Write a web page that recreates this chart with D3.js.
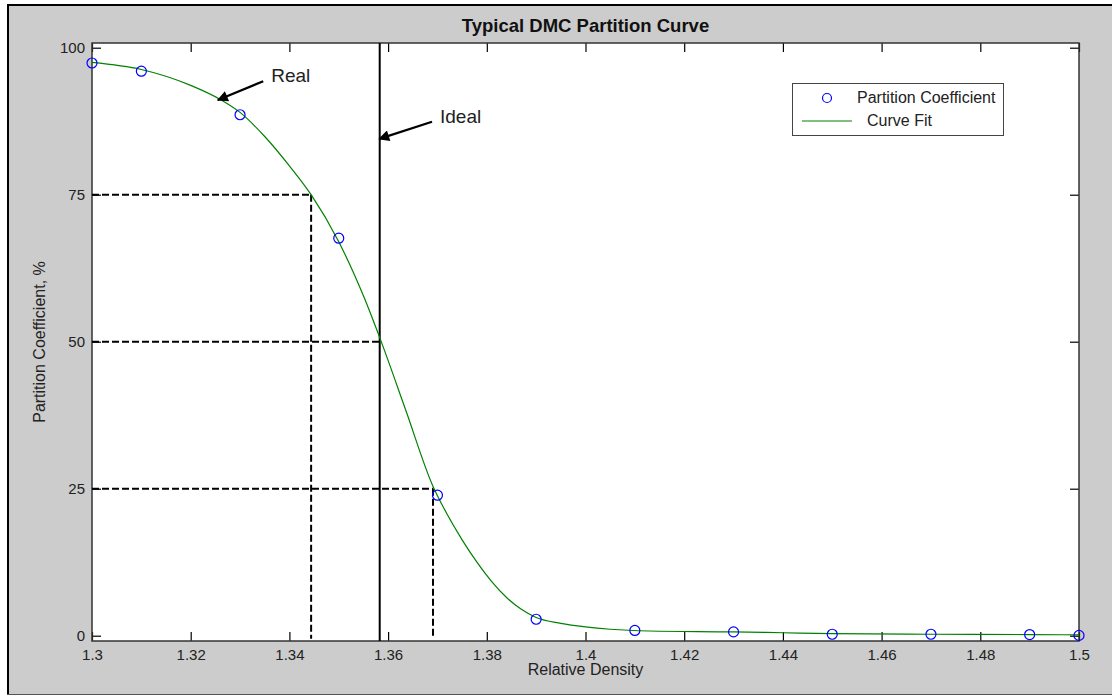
<!DOCTYPE html>
<html>
<head>
<meta charset="utf-8">
<script src="https://cdn.jsdelivr.net/npm/d3@7"></script>
<style>
  html, body { margin: 0; padding: 0; background: #ffffff; }
  svg { display: block; font-family: "Liberation Sans", Arial, sans-serif; }
</style>
</head>
<body>
<div class="container__chart"></div>
<script>
//data
const density = [1.30, 1.31, 1.33, 1.35, 1.37, 1.39, 1.41, 1.43, 1.45, 1.47, 1.49, 1.50];
const coefficient = [97.4, 96.0, 88.6, 67.6, 23.9, 2.8, 0.9, 0.65, 0.25, 0.25, 0.2, 0.05];

const fitDensity = [1.30, 1.31, 1.32, 1.326, 1.33, 1.335, 1.34, 1.3444, 1.35, 1.355, 1.3587, 1.3636, 1.369, 1.372, 1.375, 1.378, 1.381, 1.384, 1.387, 1.39, 1.395, 1.40, 1.405, 1.413, 1.43, 1.44, 1.45, 1.47, 1.49, 1.50];
const fitCoefficient = [97.5, 96.3, 93.6, 91.2, 89.0, 84.9, 79.9, 75.0, 67.0, 57.8, 49.8, 38.3, 25.6, 20.6, 16.3, 12.5, 9.2, 6.5, 4.5, 3.1, 2.1, 1.5, 1.1, 0.8, 0.65, 0.5, 0.35, 0.25, 0.2, 0.15];

const guideDensity = [1.3444, 1.3583, 1.3691];
const guideLevel = [75, 50, 25];
const idealDensity = 1.3583;

const xTicks = [1.3, 1.32, 1.34, 1.36, 1.38, 1.4, 1.42, 1.44, 1.46, 1.48, 1.5];
const yTicks = [0, 25, 50, 75, 100];

const WIDTH = 1112;
const HEIGHT = 696;

const xScale = d3.scaleLinear().domain([1.3, 1.5]).range([92, 1079]);
const yScale = d3.scaleLinear().domain([-0.9, 100.8]).range([641, 43]);

const svg = d3.select(".container__chart")
    .append("svg")
    .attr("width", WIDTH)
    .attr("height", HEIGHT);

//figure frame
svg.append("rect")
    .attr("x", 8).attr("y", 5)
    .attr("width", WIDTH).attr("height", 689)
    .attr("fill", "#cccccc");
svg.append("line").attr("x1", 7).attr("x2", WIDTH).attr("y1", 5).attr("y2", 5)
    .attr("stroke", "#000").attr("stroke-width", 2);
svg.append("line").attr("x1", 8).attr("x2", 8).attr("y1", 4).attr("y2", 694)
    .attr("stroke", "#000").attr("stroke-width", 2);
svg.append("line").attr("x1", 7).attr("x2", WIDTH).attr("y1", 694.5).attr("y2", 694.5)
    .attr("stroke", "#555").attr("stroke-width", 1);

//plot area
const [x0, x1] = xScale.range();
const [yb, yt] = yScale.range();
svg.append("rect")
    .attr("x", x0).attr("y", yt)
    .attr("width", x1 - x0).attr("height", yb - yt)
    .attr("fill", "#ffffff");

//axes, ticks point inward
const axisColor = "#333";
const bottomAxis = svg.append("g")
    .attr("transform", `translate(0,${yb})`)
    .call(d3.axisBottom(xScale).tickValues(xTicks).tickFormat(d3.format("")).tickSizeInner(-9).tickSizeOuter(0).tickPadding(8));
const topAxis = svg.append("g")
    .attr("transform", `translate(0,${yt})`)
    .call(d3.axisTop(xScale).tickValues(xTicks).tickFormat("").tickSizeInner(-9).tickSizeOuter(0));
const leftAxis = svg.append("g")
    .attr("transform", `translate(${x0},0)`)
    .call(d3.axisLeft(yScale).tickValues(yTicks).tickSizeInner(-9).tickSizeOuter(0).tickPadding(7));
const rightAxis = svg.append("g")
    .attr("transform", `translate(${x1},0)`)
    .call(d3.axisRight(yScale).tickValues(yTicks).tickFormat("").tickSizeInner(-9).tickSizeOuter(0));

[bottomAxis, topAxis, leftAxis, rightAxis].forEach(a => {
    a.select(".domain").remove();
    a.selectAll(".tick line").attr("stroke", "#000").attr("stroke-width", 1.2);
    a.selectAll("text").attr("fill", "#222").style("font-size", "15px")
        .style("font-family", "'Liberation Sans', Arial, sans-serif");
});

svg.append("rect")
    .attr("x", x0).attr("y", yt)
    .attr("width", x1 - x0).attr("height", yb - yt)
    .attr("fill", "none")
    .attr("stroke", axisColor)
    .attr("stroke-width", 1.5);

//dashed guides at 75 / 50 / 25 %
const guides = svg.append("g")
    .attr("stroke", "#000")
    .attr("stroke-width", 2)
    .attr("stroke-dasharray", "7,3");

guideLevel.forEach((lvl, i) => {
    guides.append("line")
        .attr("x1", xScale(1.3)).attr("x2", xScale(guideDensity[i]))
        .attr("y1", yScale(lvl)).attr("y2", yScale(lvl));
    if (guideDensity[i] !== idealDensity) {
        guides.append("line")
            .attr("x1", xScale(guideDensity[i])).attr("x2", xScale(guideDensity[i]))
            .attr("y1", yScale(lvl)).attr("y2", yScale(-0.5));
    }
});

//ideal cut
svg.append("line")
    .attr("x1", xScale(idealDensity)).attr("x2", xScale(idealDensity))
    .attr("y1", yt).attr("y2", yb)
    .attr("stroke", "#000")
    .attr("stroke-width", 2);

//curve fit
const fitLine = d3.line()
    .x(d => xScale(d[0]))
    .y(d => yScale(d[1]))
    .curve(d3.curveMonotoneX);

svg.append("path")
    .datum(fitDensity.map((d, i) => [d, fitCoefficient[i]]))
    .attr("d", fitLine)
    .attr("fill", "none")
    .attr("stroke", "#008000")
    .attr("stroke-width", 1.2);

//partition coefficient markers
svg.selectAll(".point")
    .data(density.map((d, i) => [d, coefficient[i]]))
    .enter()
    .append("circle")
    .classed("point", true)
    .attr("cx", d => xScale(d[0]))
    .attr("cy", d => yScale(d[1]))
    .attr("r", 5)
    .attr("fill", "none")
    .attr("stroke", "#0000ff")
    .attr("stroke-width", 1.2);

//arrows
svg.append("defs").append("marker")
    .attr("id", "head")
    .attr("viewBox", "0 0 10 10")
    .attr("refX", 9).attr("refY", 5)
    .attr("markerWidth", 6).attr("markerHeight", 5)
    .attr("markerUnits", "strokeWidth")
    .attr("orient", "auto")
    .append("path")
    .attr("d", "M0,0L10,5L0,10z")
    .attr("fill", "#000");

const arrows = [
    { label: "Real", from: [1.3347, 94.3], to: [1.3255, 91.1] },
    { label: "Ideal", from: [1.3689, 87.4], to: [1.3582, 84.5] }
];

arrows.forEach(a => {
    svg.append("line")
        .attr("x1", xScale(a.from[0])).attr("y1", yScale(a.from[1]))
        .attr("x2", xScale(a.to[0])).attr("y2", yScale(a.to[1]))
        .attr("stroke", "#000")
        .attr("stroke-width", 2.2)
        .attr("marker-end", "url(#head)");
    svg.append("text")
        .attr("x", xScale(a.from[0]) + 8)
        .attr("y", yScale(a.from[1]) - 4)
        .attr("dominant-baseline", "middle")
        .style("font-size", "19px")
        .attr("fill", "#222")
        .text(a.label);
});

//legend
const legend = svg.append("g");
legend.append("rect")
    .attr("x", 792.5).attr("y", 83.5)
    .attr("width", 211).attr("height", 52)
    .attr("fill", "#fff")
    .attr("stroke", "#444")
    .attr("stroke-width", 1);
legend.append("circle")
    .attr("cx", 827).attr("cy", 98).attr("r", 4.5)
    .attr("fill", "none").attr("stroke", "#0000ff").attr("stroke-width", 1.2);
legend.append("text")
    .attr("x", 857).attr("y", 99)
    .attr("dominant-baseline", "middle")
    .style("font-size", "16px").attr("fill", "#222")
    .text("Partition Coefficient");
legend.append("line")
    .attr("x1", 802).attr("x2", 852).attr("y1", 121).attr("y2", 121)
    .attr("stroke", "#008000").attr("stroke-width", 1.2);
legend.append("text")
    .attr("x", 867).attr("y", 122)
    .attr("dominant-baseline", "middle")
    .style("font-size", "16px").attr("fill", "#222")
    .text("Curve Fit");

//title and axis labels
svg.append("text")
    .attr("x", (x0 + x1) / 2).attr("y", 27)
    .attr("text-anchor", "middle")
    .attr("dominant-baseline", "middle")
    .style("font-size", "18.5px")
    .style("font-weight", "bold")
    .attr("fill", "#111")
    .text("Typical DMC Partition Curve");

svg.append("text")
    .attr("x", (x0 + x1) / 2).attr("y", 671)
    .attr("text-anchor", "middle")
    .attr("dominant-baseline", "middle")
    .style("font-size", "16px")
    .attr("fill", "#222")
    .text("Relative Density");

svg.append("text")
    .attr("transform", `translate(41,${(yb + yt) / 2}) rotate(-90)`)
    .attr("text-anchor", "middle")
    .attr("dominant-baseline", "middle")
    .style("font-size", "16px")
    .attr("fill", "#222")
    .text("Partition Coefficient, %");
</script>
</body>
</html>
